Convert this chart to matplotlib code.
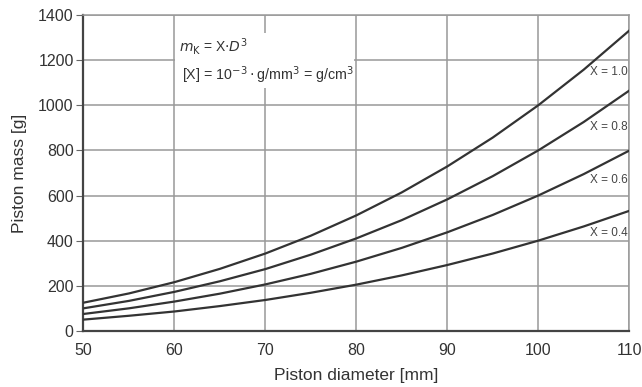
import matplotlib
matplotlib.use("Agg")
import matplotlib.pyplot as plt
from matplotlib.patches import Rectangle

plt.rcParams["font.family"] = ["Liberation Sans", "DejaVu Sans"]

# piston diameter [mm] and piston mass [g]
diameter = [50, 55, 60, 65, 70, 75, 80, 85, 90, 95, 100, 105, 110]
mass_x10 = [125, 166, 216, 275, 343, 422, 512, 614, 729, 857, 1000, 1158, 1331]
mass_x08 = [100, 133, 173, 220, 274, 338, 410, 491, 583, 686, 800, 926, 1065]
mass_x06 = [75, 100, 130, 165, 206, 253, 307, 368, 437, 514, 600, 695, 799]
mass_x04 = [50, 67, 86, 110, 137, 169, 205, 246, 292, 343, 400, 463, 532]
curve_labels = ["X = 1.0", "X = 0.8", "X = 0.6", "X = 0.4"]
label_y = [1148, 904, 669, 434]

fig = plt.figure(figsize=(6.42, 3.87), dpi=100)
ax = fig.add_axes([0.130, 0.145, 0.850, 0.816])

for m in (mass_x10, mass_x08, mass_x06, mass_x04):
    ax.plot(diameter, m, color="#333333", lw=1.6, zorder=3)

for lab, yy in zip(curve_labels, label_y):
    ax.text(109.8, yy, lab, ha="right", va="center", fontsize=8.5, color="#444444")

ax.set_xlim(50, 110)
ax.set_ylim(0, 1400)
ax.set_xticks(range(50, 111, 10))
ax.set_yticks(range(0, 1401, 200))
ax.grid(True, color="#999999", lw=1.1)
ax.set_axisbelow(True)

for side in ("top", "right"):
    ax.spines[side].set_color("#999999")
    ax.spines[side].set_linewidth(1.1)
for side in ("left", "bottom"):
    ax.spines[side].set_color("#444444")
    ax.spines[side].set_linewidth(1.6)

ax.tick_params(axis="y", length=5, pad=2, color="#666666", labelsize=11.5, labelcolor="#333333")
ax.tick_params(axis="x", length=0, pad=9, labelsize=11.5, labelcolor="#333333")

ax.set_xlabel("Piston diameter [mm]", fontsize=12.5, color="#333333", labelpad=7)
ax.set_ylabel("Piston mass [g]", fontsize=12.5, color="#333333", labelpad=8)

# white panel behind the formula
ax.add_patch(Rectangle((0.167, 0.769), 0.328, 0.174, transform=ax.transAxes,
                       facecolor="white", edgecolor="none", zorder=2))
ax.text(0.175, 0.902, r"$m_\mathrm{K}$ = X$\cdot$$D^3$", transform=ax.transAxes,
        fontsize=10, color="#333333", va="center", ha="left", zorder=4)
ax.text(0.180, 0.810, r"[X] = 10$^{-3}\cdot$g/mm$^3$ = g/cm$^3$", transform=ax.transAxes,
        fontsize=10.3, color="#333333", va="center", ha="left", zorder=4)

fig.savefig("out.png", dpi=100)
